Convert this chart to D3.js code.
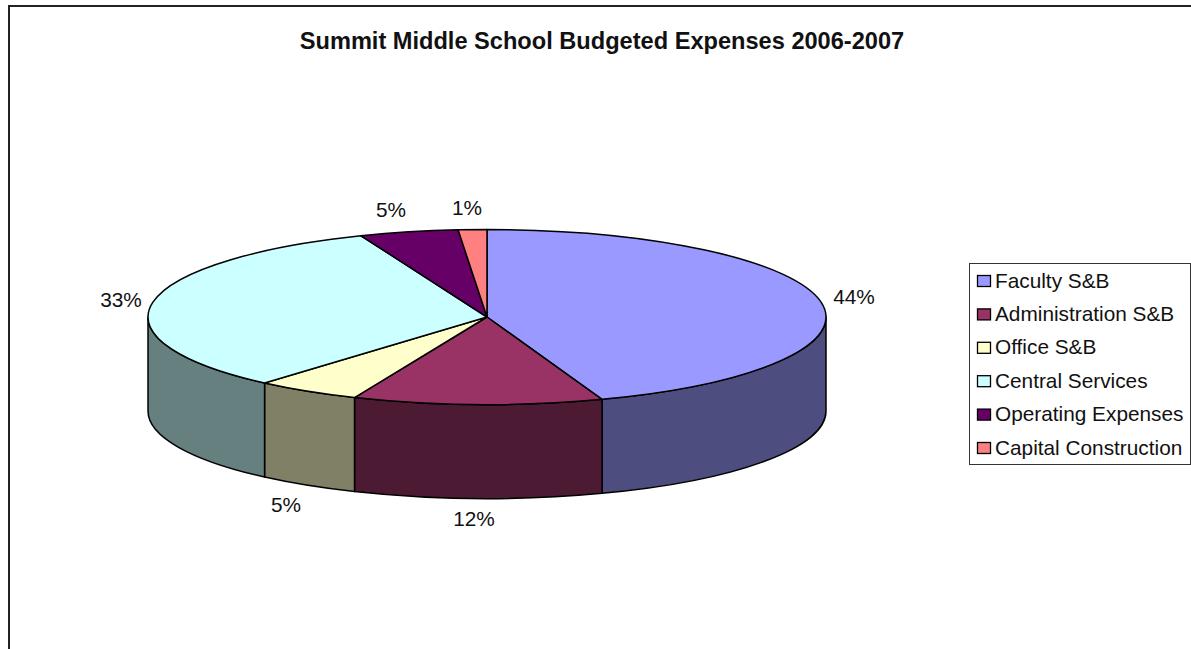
<!DOCTYPE html>
<html>
<head>
<meta charset="utf-8">
<script src="https://cdn.jsdelivr.net/npm/d3@7"></script>
<style>
  html, body { margin: 0; padding: 0; background: #fff; }
  svg { display: block; }
  text { font-family: "Liberation Sans", Arial, sans-serif; fill: #111; }
</style>
</head>
<body>
<svg id="chart" width="1191" height="649"></svg>
<script>
// Budget shares, in percent of the total
const categories = ["Faculty S&B", "Administration S&B", "Office S&B", "Central Services", "Operating Expenses", "Capital Construction"];
const shares = [44.49, 11.9, 5.0, 32.55, 4.7, 1.36];
const topColors = ["#9999ff", "#993366", "#ffffcc", "#ccffff", "#660066", "#ff8080"];
const sideColors = ["#4d4d80", "#4d1a33", "#808066", "#668080", "#330033", "#804040"];
const chartTitle = "Summit Middle School Budgeted Expenses 2006-2007";

const width = 1191, height = 649;
const cx = 487, cy = 317, rx = 339, ry = 87.5, depth = 94;

const svg = d3.select("#chart");

// Chart frame, open at the bottom and right where the page ends
svg.append("path")
  .attr("d", `M9,${height}V6H${width}`)
  .attr("fill", "none").attr("stroke", "#222").attr("stroke-width", 2);

svg.append("text")
  .attr("x", 602).attr("y", 49).attr("text-anchor", "middle")
  .attr("font-size", 23.6).attr("font-weight", "bold")
  .text(chartTitle);

// Pie angles, clockwise from twelve o'clock, projected onto a flattened ellipse
const arcs = d3.pie().sort(null).value(d => d)(shares);
const pointAt = a => [cx + rx * Math.sin(a), cy - ry * Math.cos(a)];

function topPath(d) {
  const [x0, y0] = pointAt(d.startAngle);
  const [x1, y1] = pointAt(d.endAngle);
  const large = d.endAngle - d.startAngle > Math.PI ? 1 : 0;
  return `M${cx},${cy}L${x0},${y0}A${rx},${ry} 0 ${large} 1 ${x1},${y1}Z`;
}

// Outer wall of a slice, limited to the front half of the ellipse
function sidePath(d) {
  const from = Math.max(d.startAngle, Math.PI / 2);
  const to = Math.min(d.endAngle, 3 * Math.PI / 2);
  if (to <= from) return null;
  const [x0, y0] = pointAt(from);
  const [x1, y1] = pointAt(to);
  return `M${x0},${y0}A${rx},${ry} 0 0 1 ${x1},${y1}` +
         `L${x1},${y1 + depth}A${rx},${ry} 0 0 0 ${x0},${y0 + depth}Z`;
}

const pie = svg.append("g").attr("stroke", "#000").attr("stroke-width", 1.5).attr("stroke-linejoin", "round");

pie.selectAll("path.side")
  .data(arcs.filter(d => sidePath(d)))
  .join("path")
  .attr("class", "side")
  .attr("d", sidePath)
  .attr("fill", d => sideColors[d.index]);

pie.selectAll("path.top")
  .data(arcs)
  .join("path")
  .attr("class", "top")
  .attr("d", topPath)
  .attr("fill", d => topColors[d.index]);

// Percentage labels, placed beside each slice's outer rim
const pct = d3.format(".0%");
const labelAnchors = [[854, 297], [474, 519], [286, 505], [121, 300], [391, 210], [467, 208]];
svg.append("g").selectAll("text")
  .data(arcs)
  .join("text")
  .attr("x", (d, i) => labelAnchors[i][0])
  .attr("y", (d, i) => labelAnchors[i][1])
  .attr("dy", "0.36em")
  .attr("text-anchor", "middle")
  .attr("font-size", 20.8)
  .text(d => pct(d.value / 100));

// Legend box
const legendX = 969.5, legendY = 263, legendW = 221, legendH = 201, rowH = 33.4;
const legend = svg.append("g");
legend.append("rect")
  .attr("x", legendX).attr("y", legendY + 0.5)
  .attr("width", legendW).attr("height", legendH)
  .attr("fill", "#fff").attr("stroke", "#333");

const rowY = d3.scaleLinear().domain([0, 1]).range([281, 281 + rowH]);
const rows = legend.selectAll("g").data(categories).join("g")
  .attr("transform", (d, i) => `translate(0,${rowY(i)})`);
rows.append("rect")
  .attr("x", 977.5).attr("y", -5.5)
  .attr("width", 13).attr("height", 11)
  .attr("fill", (d, i) => topColors[i]).attr("stroke", "#000").attr("stroke-width", 1.3);
rows.append("text")
  .attr("x", 995).attr("y", -1).attr("dy", "0.36em")
  .attr("font-size", 20.8)
  .text(d => d);
</script>
</body>
</html>
